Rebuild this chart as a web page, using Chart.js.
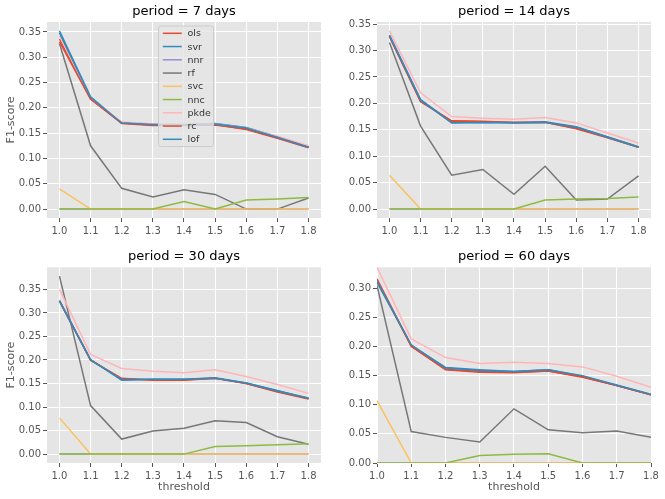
<!DOCTYPE html>
<html lang="en">

<head>
  <meta charset="UTF-8" />
  <title>F1-score by threshold</title>
  <script src="https://cdn.jsdelivr.net/npm/chart.js"></script>
  <style>
    body { margin: 0; background: #fff; }
    #fig { position: relative; width: 665px; height: 499px; }
    .panel { position: absolute; }
  </style>
</head>

<body>
  <div id="fig">
    <div class="panel" style="left:0;top:0;width:332px;height:240px"><canvas id="c7"></canvas></div>
    <div class="panel" style="left:332px;top:0;width:333px;height:240px"><canvas id="c14"></canvas></div>
    <div class="panel" style="left:0;top:240px;width:332px;height:259px"><canvas id="c30"></canvas></div>
    <div class="panel" style="left:332px;top:240px;width:333px;height:259px"><canvas id="c60"></canvas></div>
  </div>

  <script>
    // thresholds on the x axis
    const thresholds = [1.0, 1.1, 1.2, 1.3, 1.4, 1.5, 1.6, 1.7, 1.8];
    const methods = ['ols', 'svr', 'nnr', 'rf', 'svc', 'nnc', 'pkde', 'rc', 'lof'];
    const yTicks35 = [0, 0.05, 0.10, 0.15, 0.20, 0.25, 0.30, 0.35];
    const yTicks30 = [0, 0.05, 0.10, 0.15, 0.20, 0.25, 0.30];

    // F1-scores, one row per method (same order as methods)
    const f1_7 = [
      [0.336, 0.218, 0.169, 0.165, 0.166, 0.167, 0.157, 0.140, 0.121],
      [0.352, 0.222, 0.170, 0.168, 0.167, 0.169, 0.161, 0.143, 0.122],
      [0, 0, 0, 0, 0, 0, 0, 0, 0],
      [0.327, 0.125, 0.041, 0.024, 0.038, 0.029, 0.000, 0.000, 0.022],
      [0.040, 0, 0, 0, 0, 0, 0, 0, 0],
      [0, 0, 0, 0, 0.015, 0, 0.018, 0.020, 0.023],
      [0.342, 0.220, 0.172, 0.168, 0.166, 0.168, 0.160, 0.144, 0.125],
      [0.331, 0.217, 0.170, 0.166, 0.165, 0.166, 0.158, 0.141, 0.122],
      [0.348, 0.221, 0.170, 0.167, 0.166, 0.168, 0.160, 0.142, 0.122]
    ];
    const f1_14 = [
      [0.326, 0.203, 0.167, 0.166, 0.164, 0.164, 0.152, 0.135, 0.117],
      [0.329, 0.207, 0.164, 0.164, 0.164, 0.165, 0.156, 0.137, 0.118],
      [0, 0, 0, 0, 0, 0, 0, 0, 0],
      [0.315, 0.157, 0.064, 0.075, 0.028, 0.081, 0.017, 0.019, 0.063],
      [0.064, 0, 0, 0, 0, 0, 0, 0, 0],
      [0, 0, 0, 0, 0, 0.017, 0.019, 0.020, 0.023],
      [0.337, 0.220, 0.175, 0.172, 0.170, 0.173, 0.163, 0.144, 0.125],
      [0.327, 0.204, 0.166, 0.165, 0.164, 0.164, 0.153, 0.136, 0.117],
      [0.328, 0.206, 0.163, 0.164, 0.163, 0.164, 0.155, 0.136, 0.117]
    ];
    const f1_30 = [
      [0.326, 0.199, 0.161, 0.157, 0.157, 0.161, 0.150, 0.132, 0.117],
      [0.326, 0.201, 0.157, 0.159, 0.159, 0.162, 0.151, 0.135, 0.118],
      [0, 0, 0, 0, 0, 0, 0, 0, 0],
      [0.378, 0.103, 0.032, 0.049, 0.055, 0.071, 0.067, 0.037, 0.021],
      [0.077, 0, 0, 0, 0, 0, 0, 0, 0],
      [0, 0, 0, 0, 0, 0.016, 0.018, 0.020, 0.022],
      [0.350, 0.212, 0.182, 0.176, 0.173, 0.179, 0.165, 0.148, 0.129],
      [0.325, 0.200, 0.160, 0.158, 0.158, 0.161, 0.150, 0.133, 0.118],
      [0.325, 0.200, 0.158, 0.159, 0.159, 0.161, 0.151, 0.134, 0.119]
    ];
    const f1_60 = [
      [0.316, 0.201, 0.160, 0.156, 0.155, 0.158, 0.147, 0.133, 0.117],
      [0.310, 0.202, 0.164, 0.160, 0.157, 0.160, 0.149, 0.133, 0.117],
      [0, 0, 0, 0, 0, 0, 0, 0, 0],
      [0.305, 0.054, 0.044, 0.036, 0.093, 0.057, 0.052, 0.055, 0.044],
      [0.107, 0, 0, 0, 0, 0, 0, 0, 0],
      [0, 0, 0, 0.013, 0.015, 0.016, 0, 0, 0],
      [0.336, 0.213, 0.181, 0.171, 0.173, 0.171, 0.165, 0.149, 0.130],
      [0.314, 0.200, 0.161, 0.157, 0.156, 0.158, 0.148, 0.133, 0.117],
      [0.312, 0.203, 0.163, 0.159, 0.157, 0.160, 0.150, 0.134, 0.118]
    ];

    // ggplot colour cycle
    const colors = ['#E24A33', '#348ABD', '#988ED5', '#777777', '#FBC15E', '#8EBA42', '#FFB5B8', '#E24A33', '#348ABD'];

    Chart.defaults.font.family = '"DejaVu Sans", sans-serif';
    Chart.defaults.color = '#555555';

    // grey plot background like the ggplot style
    const bgPlugin = {
      id: 'bg',
      beforeDraw(chart) {
        const a = chart.chartArea, ctx = chart.ctx;
        ctx.save();
        ctx.fillStyle = '#E5E5E5';
        ctx.fillRect(a.left, a.top, a.right - a.left, a.bottom - a.top);
        ctx.restore();
      }
    };

    // legend inside the plot, upper centre
    const innerLegend = {
      id: 'innerLegend',
      afterDatasetsDraw(chart, args, opts) {
        if (!opts.show) return;
        const a = chart.chartArea, ctx = chart.ctx;
        const w = 55, rowH = 13.25;
        const h = rowH * (chart.data.datasets.length - 1) + 14.5;
        const x0 = (a.left + a.right) / 2 - w / 2 + 2;
        const y0 = a.top + 4;
        ctx.save();
        ctx.fillStyle = 'rgba(229,229,229,0.8)';
        ctx.strokeStyle = '#CCCCCC';
        ctx.lineWidth = 1;
        ctx.beginPath();
        ctx.roundRect(x0, y0, w, h, 2);
        ctx.fill();
        ctx.stroke();
        ctx.font = '9.5px "DejaVu Sans"';
        ctx.textBaseline = 'middle';
        chart.data.datasets.forEach((ds, i) => {
          const y = y0 + 7.3 + i * rowH;
          ctx.strokeStyle = ds.borderColor;
          ctx.lineWidth = 1.5;
          ctx.beginPath();
          ctx.moveTo(x0 + 4.3, y);
          ctx.lineTo(x0 + 23.3, y);
          ctx.stroke();
          ctx.fillStyle = '#333333';
          ctx.fillText(ds.label, x0 + 29, y + 0.5);
        });
        ctx.restore();
      }
    };

    function makePanel(id, rows, title, o) {
      const maxY = Math.max(...rows.flat());
      const yMin = o.tight ? 0 : -0.05 * maxY;
      const yMax = o.tight ? maxY : 1.05 * maxY;
      const xMin = o.tight ? 1.0 : 0.96;
      const xMax = o.tight ? 1.8 : 1.84;

      const datasets = rows.map((vals, i) => ({
        label: methods[i],
        data: vals.map((v, j) => ({ x: thresholds[j], y: v })),
        borderColor: colors[i],
        backgroundColor: colors[i],
        borderWidth: 1.5,
        pointRadius: 0,
        tension: 0,
        fill: false,
        order: -i
      }));

      new Chart(document.getElementById(id), {
        type: 'line',
        data: { datasets: datasets },
        plugins: [bgPlugin, innerLegend],
        options: {
          responsive: true,
          maintainAspectRatio: false,
          animation: false,
          layout: { padding: { left: 0, right: o.padRight, top: 0, bottom: 0 } },
          plugins: {
            legend: { display: false },
            tooltip: { enabled: false },
            innerLegend: { show: !!o.legend },
            title: {
              display: true,
              text: title,
              color: '#000000',
              fullSize: false,
              font: { size: 13, weight: 'normal' },
              padding: { top: o.titleTop, bottom: o.titleBottom }
            }
          },
          scales: {
            x: {
              type: 'linear',
              min: xMin,
              max: xMax,
              afterBuildTicks: s => { s.ticks = thresholds.map(v => ({ value: v })); },
              afterFit: s => { s.height = o.xHeight; },
              border: { display: false },
              grid: { color: '#FFFFFF', lineWidth: 1, tickColor: '#555555', tickLength: 4 },
              ticks: { font: { size: 10 }, color: '#555555', padding: 3, callback: v => v.toFixed(1) },
              title: {
                display: !!o.xTitle,
                text: 'threshold',
                color: '#555555',
                font: { size: 11 },
                padding: { top: 0, bottom: 5 }
              }
            },
            y: {
              min: yMin,
              max: yMax,
              afterBuildTicks: s => { s.ticks = o.yTicks.map(v => ({ value: v })); },
              afterFit: s => { s.width = o.yWidth; },
              border: { display: false },
              grid: { color: '#FFFFFF', lineWidth: 1, tickColor: '#555555', tickLength: 4 },
              ticks: { font: { size: 10 }, color: '#555555', padding: 2, callback: v => v.toFixed(2) },
              title: {
                display: !!o.yTitle,
                text: 'F1-score',
                color: '#555555',
                font: { size: 11 },
                padding: { top: 5, bottom: 0 }
              }
            }
          }
        }
      });
    }

    makePanel('c7', f1_7, 'period = 7 days',
      { yTicks: yTicks35, yWidth: 47, padRight: 11, xHeight: 22, titleTop: 4, titleBottom: 2.4, yTitle: true, legend: true });
    makePanel('c14', f1_14, 'period = 14 days',
      { yTicks: yTicks35, yWidth: 45, padRight: 14, xHeight: 22, titleTop: 4, titleBottom: 2.4 });
    makePanel('c30', f1_30, 'period = 30 days',
      { yTicks: yTicks35, yWidth: 47, padRight: 11, xHeight: 36, titleTop: 9, titleBottom: 2.7, yTitle: true, xTitle: true });
    makePanel('c60', f1_60, 'period = 60 days',
      { yTicks: yTicks30, yWidth: 45, padRight: 14, xHeight: 36, titleTop: 9, titleBottom: 2.7, xTitle: true, tight: true });
  </script>
</body>

</html>
